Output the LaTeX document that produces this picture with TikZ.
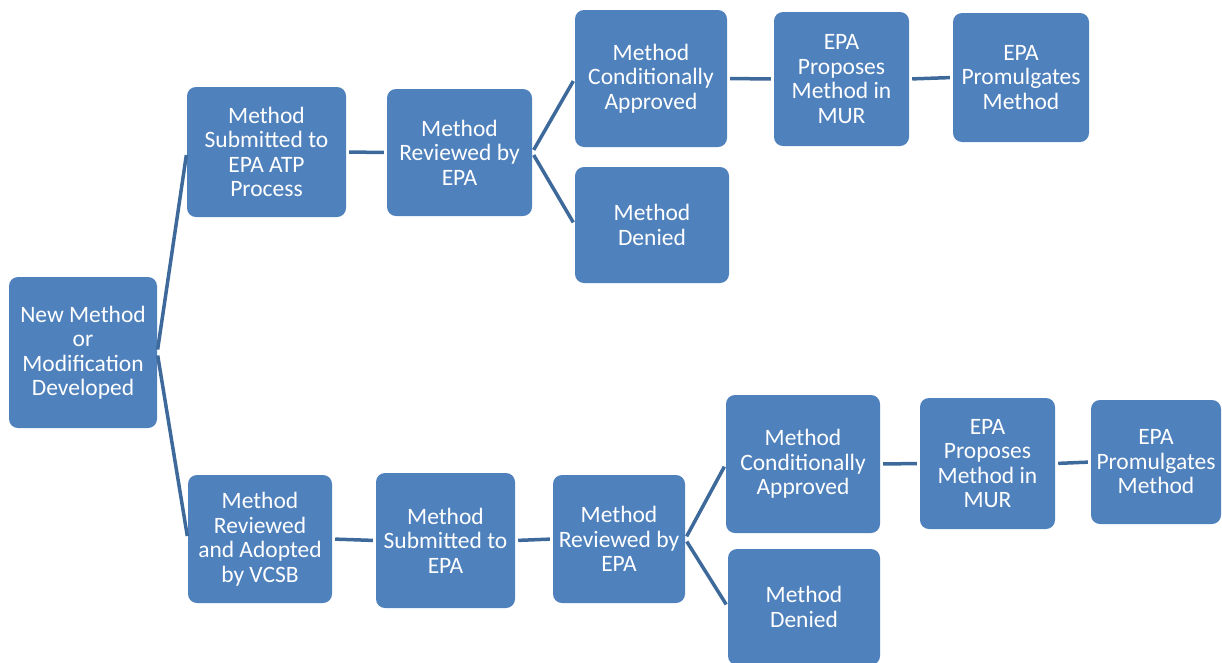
\documentclass[tikz,border=0pt]{standalone}
\usepackage{fontspec}
\setmainfont{Carlito}
\usepackage{tikz}
\usetikzlibrary{positioning}

\definecolor{boxblue}{RGB}{79,129,189}
\definecolor{lineblue}{RGB}{62,105,155}

\begin{document}
\begin{tikzpicture}[x=1pt,y=-1pt]
 \useasboundingbox (0,0) rectangle (1222,662);

\tikzstyle{box}=[fill=boxblue,draw=none,rounded corners=9pt,text=white,align=center,inner sep=2pt,font=\fontsize{23.5}{24.5}\selectfont]
\tikzstyle{link}=[draw=lineblue,line width=3.5pt,shorten <=3pt,shorten >=3pt]

    % root
    \node (new) [box,minimum width=148pt,minimum height=151pt] at (83,352.5) {New Method\\or\\Modification\\Developed};

    % upper branch
    \node (atp) [box,minimum width=159pt,minimum height=130pt] at (266.5,152) {Method\\Submitted to\\EPA ATP\\Process};
    \node (rev1) [box,minimum width=145pt,minimum height=127pt] at (459.5,152.5) {Method\\Reviewed by\\EPA};
    \node (cond1) [box,minimum width=152pt,minimum height=137pt] at (651,78.5) {Method\\Conditionally\\Approved};
    \node (deny1) [box,minimum width=154pt,minimum height=116pt] at (652,225) {Method\\Denied};
    \node (prop1) [box,minimum width=135pt,minimum height=134pt] at (841.5,79) {EPA\\Proposes\\Method in\\MUR};
    \node (prom1) [box,minimum width=136pt,minimum height=129pt] at (1021,77.5) {EPA\\Promulgates\\Method};

    % lower branch
    \node (vcsb) [box,minimum width=144pt,minimum height=128pt] at (260,539) {Method\\Reviewed\\and Adopted\\by VCSB};
    \node (sub2) [box,minimum width=139pt,minimum height=135pt] at (445.5,540.5) {Method\\Submitted to\\EPA};
    \node (rev2) [box,minimum width=132pt,minimum height=128pt] at (619,539) {Method\\Reviewed by\\EPA};
    \node (cond2) [box,minimum width=154pt,minimum height=138pt] at (803,464) {Method\\Conditionally\\Approved};
    \node (deny2) [box,minimum width=152pt,minimum height=116pt] at (804,607) {Method\\Denied};
    \node (prop2) [box,minimum width=135pt,minimum height=131pt] at (987.5,463.5) {EPA\\Proposes\\Method in\\MUR};
    \node (prom2) [box,minimum width=130pt,minimum height=124pt] at (1156,462) {EPA\\Promulgates\\Method};

    %connectors
    \draw[link] (new.east) -- (atp.west);
    \draw[link] (new.east) -- (vcsb.west);
    \draw[link] (atp.east) -- (rev1.west);
    \draw[link] (rev1.east) -- (cond1.west);
    \draw[link] (rev1.east) -- (deny1.west);
    \draw[link] (cond1.east) -- (prop1.west);
    \draw[link] (prop1.east) -- (prom1.west);
    \draw[link] (vcsb.east) -- (sub2.west);
    \draw[link] (sub2.east) -- (rev2.west);
    \draw[link] (rev2.east) -- (cond2.west);
    \draw[link] (rev2.east) -- (deny2.west);
    \draw[link] (cond2.east) -- (prop2.west);
    \draw[link] (prop2.east) -- (prom2.west);
\end{tikzpicture}
\end{document}
